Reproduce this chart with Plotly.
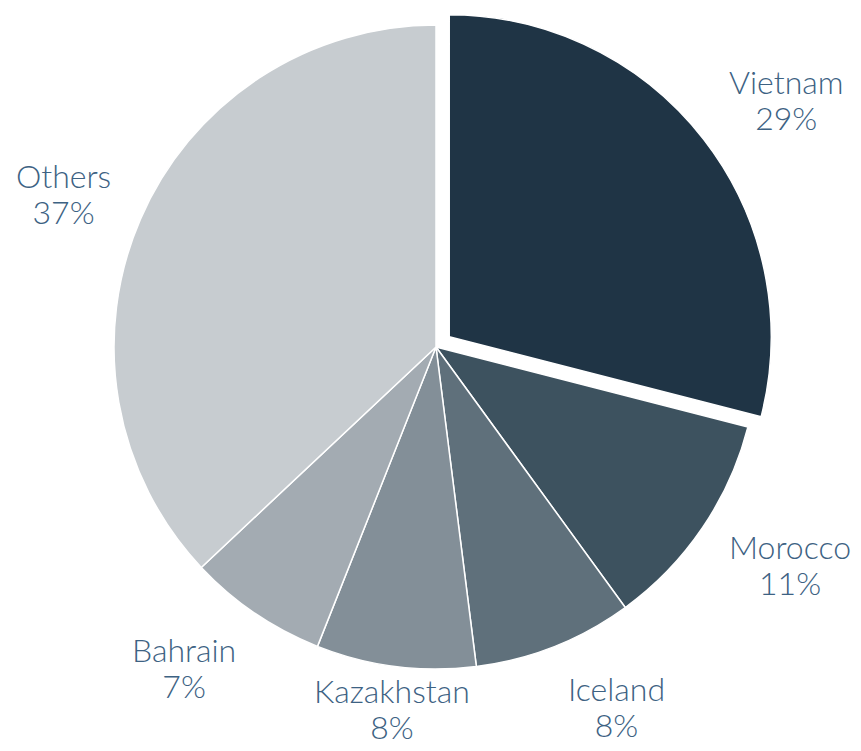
import math
import plotly.graph_objects as go

labels = ["Vietnam", "Morocco", "Iceland", "Kazakhstan", "Bahrain", "Others"]
values = [29, 11, 8, 8, 7, 37]
colors = ["#1f3445", "#3d525f", "#5f707b", "#838f98", "#a3abb2", "#c7ccd0"]
pulls = [0.052, 0, 0, 0, 0, 0]

W, H = 861, 751
OFF = 8                    # page body margin of the html output
CX, CY = 436, 347          # pie centre in page px
R = 322                    # pie radius in px
LABEL_R = 352              # label edge distance from centre in px
HALF_BOX = 35              # half height of a two-line label in px
BOTTOM_PAD = 8             # keep labels clear of the bottom edge
maxpull = max(pulls)
half = R * (1 + maxpull)
fcx, fcy = CX - OFF, CY - OFF   # centre in figure px

fig = go.Figure(go.Pie(
    labels=labels,
    values=values,
    sort=False,
    direction="clockwise",
    rotation=0,
    pull=pulls,
    marker=dict(colors=colors, line=dict(color="white", width=1.5)),
    textposition="none",
    domain=dict(x=[(fcx - half) / W, (fcx + half) / W],
                y=[max(0, 1 - (fcy + half) / H), min(1, 1 - (fcy - half) / H)]),
    showlegend=False,
    hoverinfo="label+percent",
))

total = sum(values)
cum = 0
annotations = []
for lab, v, p in zip(labels, values, pulls):
    mid = (cum + v / 2) / total * 360
    cum += v
    s, c = math.sin(math.radians(mid)), math.cos(math.radians(mid))
    d = p * R + LABEL_R
    px, py = fcx + d * s, fcy - d * c
    py = py - c * HALF_BOX
    py = min(py, H - OFF - HALF_BOX - BOTTOM_PAD)
    xa = "left" if s > 0.2 else ("right" if s < -0.2 else "center")
    txt = (f'<span style="font-size:32px">{lab}</span><br>'
           f'<span style="font-size:32px">{round(v / total * 100)}%</span>')
    annotations.append(dict(
        x=px / W, y=1 - py / H, xref="paper", yref="paper",
        text=txt,
        showarrow=False, xanchor=xa, yanchor="middle", align="center",
        font=dict(family="Lato", size=28, color="#3d6283", weight=300),
    ))

fig.update_layout(
    width=W, height=H,
    margin=dict(l=0, r=0, t=0, b=0),
    paper_bgcolor="white",
    plot_bgcolor="white",
    annotations=annotations,
)
fig.write_html("out.html")
